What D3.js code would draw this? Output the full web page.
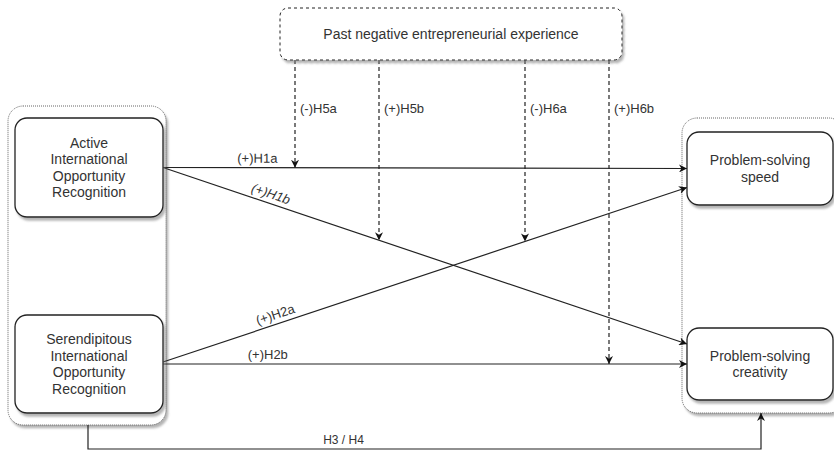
<!doctype html>
<html lang="en">
  <head>
    <meta charset="utf-8" />
    <title>Research model</title>
    <style>
     body {
       margin: 0;
       background: #fff;
       font-family: "Liberation Sans", Arial, sans-serif;
     }
     text {
       fill: #333;
     }
    </style>
  </head>
  <body>
    <div id="diagram"></div>

    <script src="https://cdn.jsdelivr.net/npm/d3@7"></script>
    <script>
    // constructs, in the order they are drawn
    var nodeIds = ["moderator", "active", "serendipitous", "speed", "creativity"];
    var nodeLabels = [
      ["Past negative entrepreneurial experience"],
      ["Active", "International", "Opportunity", "Recognition"],
      ["Serendipitous", "International", "Opportunity", "Recognition"],
      ["Problem-solving", "speed"],
      ["Problem-solving", "creativity"]
    ];

    // direct hypotheses (source -> target)
    var pathFrom = ["active", "active", "serendipitous", "serendipitous"];
    var pathTo = ["speed", "creativity", "speed", "creativity"];
    var pathLabels = ["(+)H1a", "(+)H1b", "(+)H2a", "(+)H2b"];

    // moderation hypotheses, each hitting one of the paths above
    var modLabels = ["(-)H5a", "(+)H5b", "(-)H6a", "(+)H6b"];
    var modTarget = [0, 1, 2, 3];

    var bottomLabel = "H3 / H4";

    var width = 834, height = 453;

    // layout (pixels)
    var box = {
      moderator:     {x: 280, y: 8,   w: 342, h: 52, rx: 8, dashed: true},
      active:        {x: 15,  y: 118, w: 148, h: 99, rx: 12},
      serendipitous: {x: 15,  y: 315, w: 148, h: 98, rx: 12},
      speed:         {x: 687, y: 132, w: 146, h: 73, rx: 12},
      creativity:    {x: 687, y: 328, w: 146, h: 72, rx: 12}
    };
    var groups = [
      {x: 8,   y: 106, w: 158, h: 319},
      {x: 682, y: 118, w: 162, h: 295}
    ];
    var modX = [295, 379, 525, 609];
    var labelT = [0.18, 0.2, 0.22, 0.2];

    var svg = d3.select("#diagram").append("svg")
        .attr("width", width)
        .attr("height", height);

    var defs = svg.append("defs");
    defs.append("filter")
        .attr("id", "shadow")
        .attr("x", "-10%").attr("y", "-10%")
        .attr("width", "130%").attr("height", "130%")
      .append("feDropShadow")
        .attr("dx", 2).attr("dy", 3)
        .attr("stdDeviation", 1)
        .attr("flood-color", "#777")
        .attr("flood-opacity", 0.55);
    defs.append("marker")
        .attr("id", "arrow")
        .attr("viewBox", "0 0 10 10")
        .attr("refX", 10).attr("refY", 5)
        .attr("markerWidth", 8).attr("markerHeight", 8)
        .attr("markerUnits", "userSpaceOnUse")
        .attr("orient", "auto")
      .append("path")
        .attr("d", "M0,0 L10,5 L0,10 L3,5 z")
        .attr("fill", "#111");

    // dotted group frames
    svg.selectAll("rect.group")
      .data(groups)
      .enter().append("rect")
        .attr("class", "group")
        .attr("x", function(d) { return d.x; })
        .attr("y", function(d) { return d.y; })
        .attr("width", function(d) { return d.w; })
        .attr("height", function(d) { return d.h; })
        .attr("rx", 15)
        .attr("fill", "#fff")
        .attr("stroke", "#666")
        .attr("stroke-dasharray", "1 1")
        .attr("filter", "url(#shadow)");

    // endpoints of the direct paths
    var paths = pathLabels.map(function(label, i) {
      var s = box[pathFrom[i]], t = box[pathTo[i]];
      var sy = s.y + s.h / 2, ty = t.y + t.h / 2;
      // the two diagonals leave the boxes a little off centre
      if (pathFrom[i] !== pathTo[i] && i === 1) ty = t.y + t.h / 2 - 20;
      if (i === 2) ty = t.y + t.h / 2 + 19;
      if (i === 2) sy = s.y + s.h / 2 - 2;
      return {x1: s.x + s.w, y1: sy, x2: t.x, y2: ty, label: label, italic: i === 1};
    });

    function yAt(p, x) {
      return p.y1 + (x - p.x1) * (p.y2 - p.y1) / (p.x2 - p.x1);
    }

    svg.selectAll("line.path")
      .data(paths)
      .enter().append("line")
        .attr("class", "path")
        .attr("x1", function(d) { return d.x1; })
        .attr("y1", function(d) { return d.y1; })
        .attr("x2", function(d) { return d.x2; })
        .attr("y2", function(d) { return d.y2; })
        .attr("stroke", "#222")
        .attr("stroke-width", 1.2)
        .attr("marker-end", "url(#arrow)");

    svg.selectAll("text.pathlabel")
      .data(paths)
      .enter().append("text")
        .attr("class", "pathlabel")
        .attr("transform", function(d, i) {
          var x = d.x1 + labelT[i] * (d.x2 - d.x1), y = yAt(d, x);
          var a = Math.atan2(d.y2 - d.y1, d.x2 - d.x1) * 180 / Math.PI;
          return "translate(" + x + "," + y + ") rotate(" + a + ") translate(0,-5)";
        })
        .attr("text-anchor", "middle")
        .attr("font-size", 13)
        .attr("font-style", function(d) { return d.italic ? "italic" : null; })
        .attr("fill", function(d, i) { return i === 0 || i === 3 ? "#333" : "#555"; })
        .text(function(d) { return d.label; });

    // moderation arrows
    var modTop = box.moderator.y + box.moderator.h;
    var mods = modLabels.map(function(label, i) {
      return {x: modX[i], y2: yAt(paths[modTarget[i]], modX[i]), label: label};
    });

    svg.selectAll("line.mod")
      .data(mods)
      .enter().append("line")
        .attr("class", "mod")
        .attr("x1", function(d) { return d.x; })
        .attr("y1", modTop)
        .attr("x2", function(d) { return d.x; })
        .attr("y2", function(d) { return d.y2; })
        .attr("stroke", "#222")
        .attr("stroke-width", 1.2)
        .attr("stroke-dasharray", "4 3")
        .attr("marker-end", "url(#arrow)");

    svg.selectAll("text.modlabel")
      .data(mods)
      .enter().append("text")
        .attr("class", "modlabel")
        .attr("x", function(d) { return d.x + 5; })
        .attr("y", 113)
        .attr("font-size", 13)
        .text(function(d) { return d.label; });

    // H3 / H4 elbow connector
    var startX = 88, endX = 761, baseY = 449;
    svg.append("path")
        .attr("d", d3.line()([
          [startX, groups[0].y + groups[0].h],
          [startX, baseY],
          [endX, baseY],
          [endX, groups[1].y + groups[1].h]
        ]))
        .attr("fill", "none")
        .attr("stroke", "#222")
        .attr("stroke-width", 1.2)
        .attr("marker-end", "url(#arrow)");
    svg.append("text")
        .attr("x", (startX + endX) / 2 - 81)
        .attr("y", baseY - 5)
        .attr("text-anchor", "middle")
        .attr("font-size", 12)
        .text(bottomLabel);

    // construct boxes
    var node = svg.selectAll("g.node")
      .data(nodeIds)
      .enter().append("g")
        .attr("class", "node");

    node.append("rect")
        .attr("x", function(d) { return box[d].x; })
        .attr("y", function(d) { return box[d].y; })
        .attr("width", function(d) { return box[d].w; })
        .attr("height", function(d) { return box[d].h; })
        .attr("rx", function(d) { return box[d].rx; })
        .attr("fill", "#fff")
        .attr("stroke", "#222")
        .attr("stroke-width", function(d) { return box[d].dashed ? 1 : 1.3; })
        .attr("stroke-dasharray", function(d) { return box[d].dashed ? "3 3" : null; })
        .attr("filter", "url(#shadow)");

    node.append("text")
        .attr("text-anchor", "middle")
        .attr("font-size", 14)
        .each(function(d, i) {
          var b = box[d], lines = nodeLabels[i], lh = 16.5;
          var y0 = b.y + b.h / 2 - (lines.length - 1) * lh / 2 + 5;
          d3.select(this).selectAll("tspan")
            .data(lines)
            .enter().append("tspan")
              .attr("x", b.x + b.w / 2)
              .attr("y", function(l, j) { return y0 + j * lh; })
              .text(function(l) { return l; });
        });
    </script>
  </body>
</html>
